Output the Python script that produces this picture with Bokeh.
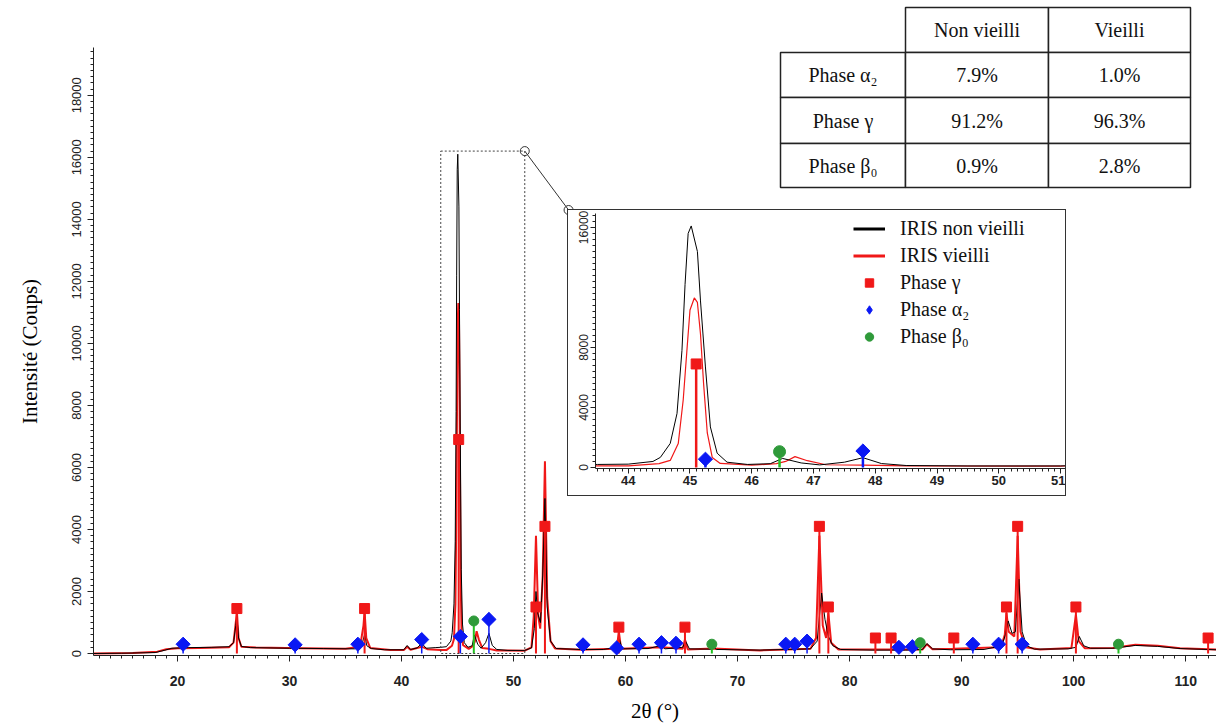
from bokeh.plotting import figure
from bokeh.models import Range1d, SingleIntervalTicker, FixedTicker, Legend, LegendItem
from bokeh.embed import file_html
from bokeh.resources import INLINE
from bokeh.core.properties import value

# ---------------- data ----------------
# diffractogram, non aged sample (black)
black_x = [12.5, 15, 18, 18.8, 19.5, 21, 23, 24.6, 25.0, 25.2, 25.3, 25.45, 25.7, 26.5, 30, 33, 35.8,
           36.4, 36.7, 36.9, 37.3, 38.5, 40.2, 40.5, 40.8, 41.4, 41.8, 42.2, 43.0, 43.5, 44.0, 44.4,
           44.52, 44.68, 44.79, 44.87, 44.92, 44.97, 45.02, 45.12, 45.17, 45.25, 45.33, 45.44, 45.6,
           45.93, 46.3, 46.5, 46.8, 47.1, 47.5, 47.8, 48.1, 48.5, 49.5, 51.0, 51.6, 51.85, 52.0, 52.15,
           52.4, 52.6, 52.8, 53.0, 53.3, 53.8, 56, 58, 59.3, 59.45, 59.7, 62, 63.2, 63.5, 65.1, 65.35,
           65.7, 67.6, 67.8, 68.1, 72, 76.5, 77.1, 77.5, 77.8, 78.1, 78.5, 79.2, 82, 85, 86.5, 86.9,
           87.4, 89, 92, 93.6, 93.9, 94.15, 94.5, 94.8, 95.1, 95.4, 95.8, 96.5, 99.5, 100.2, 100.5,
           100.9, 101.5, 103.5, 105.5, 107.5, 109.5, 112.75]
black_y = [0, 10, 30, 100, 170, 190, 200, 220, 350, 900, 1200, 500, 230, 190, 170, 160, 150,
           220, 600, 250, 160, 120, 120, 260, 130, 180, 330, 170, 190, 200, 220, 400,
           670, 1600, 3600, 7800, 12200, 15600, 16100, 14400, 11100, 6700, 2700, 950, 350,
           200, 250, 600, 300, 170, 350, 650, 260, 130, 100, 100, 180, 800, 2000, 1300,
           1000, 2500, 5000, 1500, 400, 160, 130, 130, 200, 450, 150, 160, 260, 150, 200, 400,
           150, 140, 220, 130, 110, 150, 400, 1950, 1100, 550, 250, 130, 110, 110, 130, 320,
           150, 120, 130, 250, 600, 1050, 650, 700, 2400, 700, 250, 140, 150, 200, 550,
           250, 170, 170, 260, 230, 160, 120]

# diffractogram, aged sample (red)
red_x = [12.5, 16, 18.2, 19.0, 20, 22, 24.6, 25.0, 25.2, 25.3, 25.45, 25.7, 27, 31, 35, 36.3, 36.6,
         36.7, 36.85, 37.2, 39, 40.2, 40.5, 40.8, 41.8, 42.3, 43.5, 44.0, 44.5, 44.68, 44.81, 44.89,
         44.95, 45.0, 45.07, 45.12, 45.17, 45.22, 45.28, 45.36, 45.49, 46.0, 46.4, 46.55, 46.7, 46.9,
         47.2, 47.8, 48.5, 51.0, 51.6, 51.8, 52.0, 52.2, 52.38, 52.6, 52.8, 53.0, 53.3, 53.7, 56,
         59.2, 59.4, 59.6, 63.2, 65.1, 65.3, 65.55, 67.8, 72, 76.5, 77.0, 77.3, 77.6, 77.9, 78.1,
         78.35, 79, 82.3, 83.7, 86.5, 86.9, 87.4, 89.3, 93.5, 93.85, 94.0, 94.2, 94.7, 95.0, 95.25,
         95.7, 97, 99.8, 100.2, 100.45, 101, 103.5, 105.5, 107.5, 109.5, 112.75]
red_y = [0, 20, 60, 140, 170, 180, 200, 350, 1000, 1350, 500, 220, 190, 170, 150, 220, 900,
         1350, 500, 180, 110, 110, 220, 120, 220, 140, 110, 110, 250, 470, 1600, 4500,
         7800, 10500, 11300, 11000, 8900, 5600, 2300, 670, 270, 150, 250, 400, 720, 450,
         180, 150, 100, 90, 200, 1200, 3800, 1200, 800, 2500, 6200, 1800, 400, 160, 120,
         150, 700, 150, 200, 150, 450, 130, 160, 100, 150, 500, 3800, 900, 500, 1300,
         350, 130, 130, 130, 130, 300, 140, 150, 200, 600, 1300, 700, 550, 3800, 700,
         200, 130, 180, 1250, 400, 170, 180, 280, 250, 170, 130]

# reference peaks of each phase
gamma_x = [25.3, 36.7, 45.1, 52.0, 52.8, 59.4, 65.3, 77.3, 78.1, 82.3, 83.7, 89.3, 94.0, 95.0, 100.2, 112.0]
gamma_y = [1450, 1450, 6900, 1500, 4100, 850, 850, 4100, 1500, 500, 500, 500, 1500, 4100, 1500, 500]
alpha_x = [20.5, 30.5, 36.1, 41.8, 45.25, 47.8, 56.2, 59.2, 61.2, 63.2, 64.5, 74.3, 75.1, 76.2,
           84.4, 85.6, 91.0, 93.3, 95.4]
alpha_y = [300, 280, 300, 450, 550, 1100, 280, 180, 300, 350, 330, 300, 300, 400,
           200, 220, 300, 300, 300]
beta_x = [46.45, 67.7, 86.3, 104.0]
beta_y = [1050, 300, 350, 300]

# zoom window shown in the inset
zoom_x = [43.5, 51.0]
zoom_top = 16200
inset_corner = [54.91, 14300]

# phase fractions table
table_cols = ["Non vieilli", "Vieilli"]
table_rows = ["Phase α₂", "Phase γ", "Phase β₀"]
frac_non_vieilli = ["7.9%", "91.2%", "0.9%"]
frac_vieilli = ["1.0%", "96.3%", "2.8%"]

RED = "#f01818"
BLUE = "#0a18f4"
GREEN = "#2f9a3a"
STICK_GREEN = "#22c022"
SERIF = "Liberation Serif"
SANS = "Liberation Sans"
DIAMOND_ANGLE = 0.785398

# ---------------- main figure ----------------
p = figure(width=1216, height=725, x_range=Range1d(12.5, 112.75), y_range=Range1d(-64, 19540),
           output_backend="svg", toolbar_location=None,
           min_border_left=93, min_border_right=0, min_border_top=47, min_border_bottom=68)
p.grid.visible = False
p.outline_line_color = None
p.background_fill_color = "white"

p.line(red_x, red_y, color=RED, line_width=2)
p.line(black_x, black_y, color="black", line_width=1)

p.segment(x0=gamma_x, y0=[0] * len(gamma_x), x1=gamma_x, y1=gamma_y, color=RED, line_width=2)
p.segment(x0=alpha_x, y0=[0] * len(alpha_x), x1=alpha_x, y1=alpha_y, color=BLUE, line_width=1.5)
p.segment(x0=beta_x, y0=[0] * len(beta_x), x1=beta_x, y1=beta_y, color=STICK_GREEN, line_width=2)
p.scatter(gamma_x, gamma_y, marker="square", size=10, color=RED)
p.scatter(alpha_x, alpha_y, marker="square", angle=DIAMOND_ANGLE, size=10, color=BLUE)
p.scatter(beta_x, beta_y, marker="circle", size=10, color=GREEN)

p.quad(left=[zoom_x[0]], right=[zoom_x[1]], bottom=[0], top=[zoom_top], fill_color=None,
       line_color="#444", line_dash="2 2", line_width=1)
p.line([zoom_x[1], inset_corner[0]], [zoom_top, inset_corner[1]], color="#333", line_width=1)
p.scatter([zoom_x[1], inset_corner[0]], [zoom_top, inset_corner[1]], marker="circle", size=9,
          fill_color=None, line_color="#333", line_width=1)

p.xaxis.ticker = SingleIntervalTicker(interval=10, num_minor_ticks=10)
p.yaxis.ticker = SingleIntervalTicker(interval=2000, num_minor_ticks=10)
for ax in (p.xaxis[0], p.yaxis[0]):
    ax.axis_line_color = "#222"
    ax.major_tick_line_color = "#222"
    ax.minor_tick_line_color = "#222"
    ax.major_tick_in = 0
    ax.major_tick_out = 6
    ax.minor_tick_in = 0
    ax.minor_tick_out = 3
    ax.axis_label_text_font = SERIF
    ax.axis_label_text_font_style = "normal"
    ax.axis_label_text_font_size = "21px"
    ax.axis_label_text_color = "black"
    ax.major_label_text_font = SANS
    ax.major_label_text_color = "#222"
p.xaxis.axis_label = "2θ (°)"
p.xaxis.major_label_text_font_size = "14px"
p.xaxis.major_label_text_font_style = "bold"
p.xaxis.major_label_standoff = 14
p.xaxis.axis_label_standoff = 10
p.yaxis.axis_label = "Intensité (Coups)"
p.yaxis.major_label_text_font_size = "13px"
p.yaxis.major_label_orientation = "vertical"
p.yaxis.major_label_standoff = 6
p.yaxis.axis_label_standoff = 28

# ---------------- inset ----------------
inset = figure(width=499, height=287, x_range=Range1d(43.47, 51.08), y_range=Range1d(-70, 16930),
               output_backend="svg", toolbar_location=None,
               min_border_left=27, min_border_right=2, min_border_top=3, min_border_bottom=29)
inset.grid.visible = False
inset.outline_line_color = None
inset.styles = {"position": "absolute", "left": "567px", "top": "209px",
                "border": "1px solid #333", "background-color": "white"}

inset.line(red_x, red_y, color=RED, line_width=1.2)
inset.line(black_x, black_y, color="black", line_width=1)
inset.segment(x0=gamma_x, y0=[0] * len(gamma_x), x1=gamma_x, y1=gamma_y, color=RED, line_width=2.5)
inset.segment(x0=alpha_x, y0=[0] * len(alpha_x), x1=alpha_x, y1=alpha_y, color=BLUE, line_width=2.5)
inset.segment(x0=beta_x, y0=[0] * len(beta_x), x1=beta_x, y1=beta_y, color=STICK_GREEN, line_width=2.5)
inset.scatter(gamma_x, gamma_y, marker="square", size=10, color=RED)
inset.scatter(alpha_x, alpha_y, marker="square", angle=DIAMOND_ANGLE, size=10, color=BLUE)
inset.scatter(beta_x, beta_y, marker="circle", size=12, color=GREEN)

nan = [float("nan")]
lg_black = inset.line(nan, nan, color="black", line_width=3)
lg_red = inset.line(nan, nan, color=RED, line_width=3)
lg_g = inset.scatter(nan, nan, marker="square", size=12, color=RED)
lg_a = inset.scatter(nan, nan, marker="diamond", size=17, color=BLUE)
lg_b = inset.scatter(nan, nan, marker="circle", size=13, color=GREEN)
legend = Legend(items=[
    LegendItem(label="IRIS non vieilli", renderers=[lg_black]),
    LegendItem(label="IRIS vieilli", renderers=[lg_red]),
    LegendItem(label="Phase γ", renderers=[lg_g]),
    LegendItem(label="Phase α₂", renderers=[lg_a]),
    LegendItem(label="Phase β₀", renderers=[lg_b]),
], location=(258, 120))
legend.label_text_font = SERIF
legend.label_text_font_size = "20px"
legend.label_text_color = "#111"
legend.glyph_width = 32
legend.glyph_height = 21
legend.label_height = 21
legend.label_standoff = 15
legend.spacing = 4
legend.padding = 0
legend.margin = 0
legend.border_line_color = None
legend.background_fill_alpha = 0
inset.add_layout(legend)

inset.xaxis.ticker = SingleIntervalTicker(interval=1, num_minor_ticks=10)
inset.yaxis.ticker = FixedTicker(ticks=[0, 4000, 8000, 16000], minor_ticks=list(range(0, 16801, 400)))
for ax in (inset.xaxis[0], inset.yaxis[0]):
    ax.axis_line_color = "#222"
    ax.major_tick_line_color = "#222"
    ax.minor_tick_line_color = "#222"
    ax.major_tick_in = 0
    ax.major_tick_out = 5
    ax.minor_tick_in = 0
    ax.minor_tick_out = 3
    ax.major_label_text_font = SANS
    ax.major_label_text_color = "#222"
    ax.major_label_standoff = 2
inset.xaxis.major_label_text_font_size = "13px"
inset.xaxis.major_label_text_font_style = "bold"
inset.yaxis.major_label_text_font_size = "12px"
inset.yaxis.major_label_orientation = "vertical"

# ---------------- table ----------------
tbl = figure(width=420, height=188, x_range=Range1d(0, 420), y_range=Range1d(188, 0),
             output_backend="svg", toolbar_location=None, min_border=0,
             x_axis_location=None, y_axis_location=None)
tbl.grid.visible = False
tbl.outline_line_color = None
tbl.background_fill_alpha = 0
tbl.border_fill_alpha = 0
tbl.styles = {"position": "absolute", "left": "775px", "top": "3px"}

col_edges = [5, 130, 273, 415]
row_edges = [4, 49, 94, 140, 184]
cl, cr, ct, cb = [], [], [], []
tx, ty, tt = [], [], []
for j, name in enumerate(table_cols):
    cl.append(col_edges[j + 1]); cr.append(col_edges[j + 2])
    ct.append(row_edges[0]); cb.append(row_edges[1])
    tx.append((col_edges[j + 1] + col_edges[j + 2]) / 2); ty.append((row_edges[0] + row_edges[1]) / 2)
    tt.append(name)
for i, rname in enumerate(table_rows):
    cells = [rname, frac_non_vieilli[i], frac_vieilli[i]]
    for j, txt in enumerate(cells):
        cl.append(col_edges[j]); cr.append(col_edges[j + 1])
        ct.append(row_edges[i + 1]); cb.append(row_edges[i + 2])
        tx.append((col_edges[j] + col_edges[j + 1]) / 2); ty.append((row_edges[i + 1] + row_edges[i + 2]) / 2)
        tt.append(txt)
tbl.quad(left=cl, right=cr, top=ct, bottom=cb, fill_color="white", line_color="#222", line_width=1.5)
tbl.text(x=tx, y=ty, text=tt, text_align="center", text_baseline="middle",
         text_font=value(SERIF), text_font_size="20px", text_color="#111")

open("out.html", "w").write(file_html([p, inset, tbl], INLINE))
